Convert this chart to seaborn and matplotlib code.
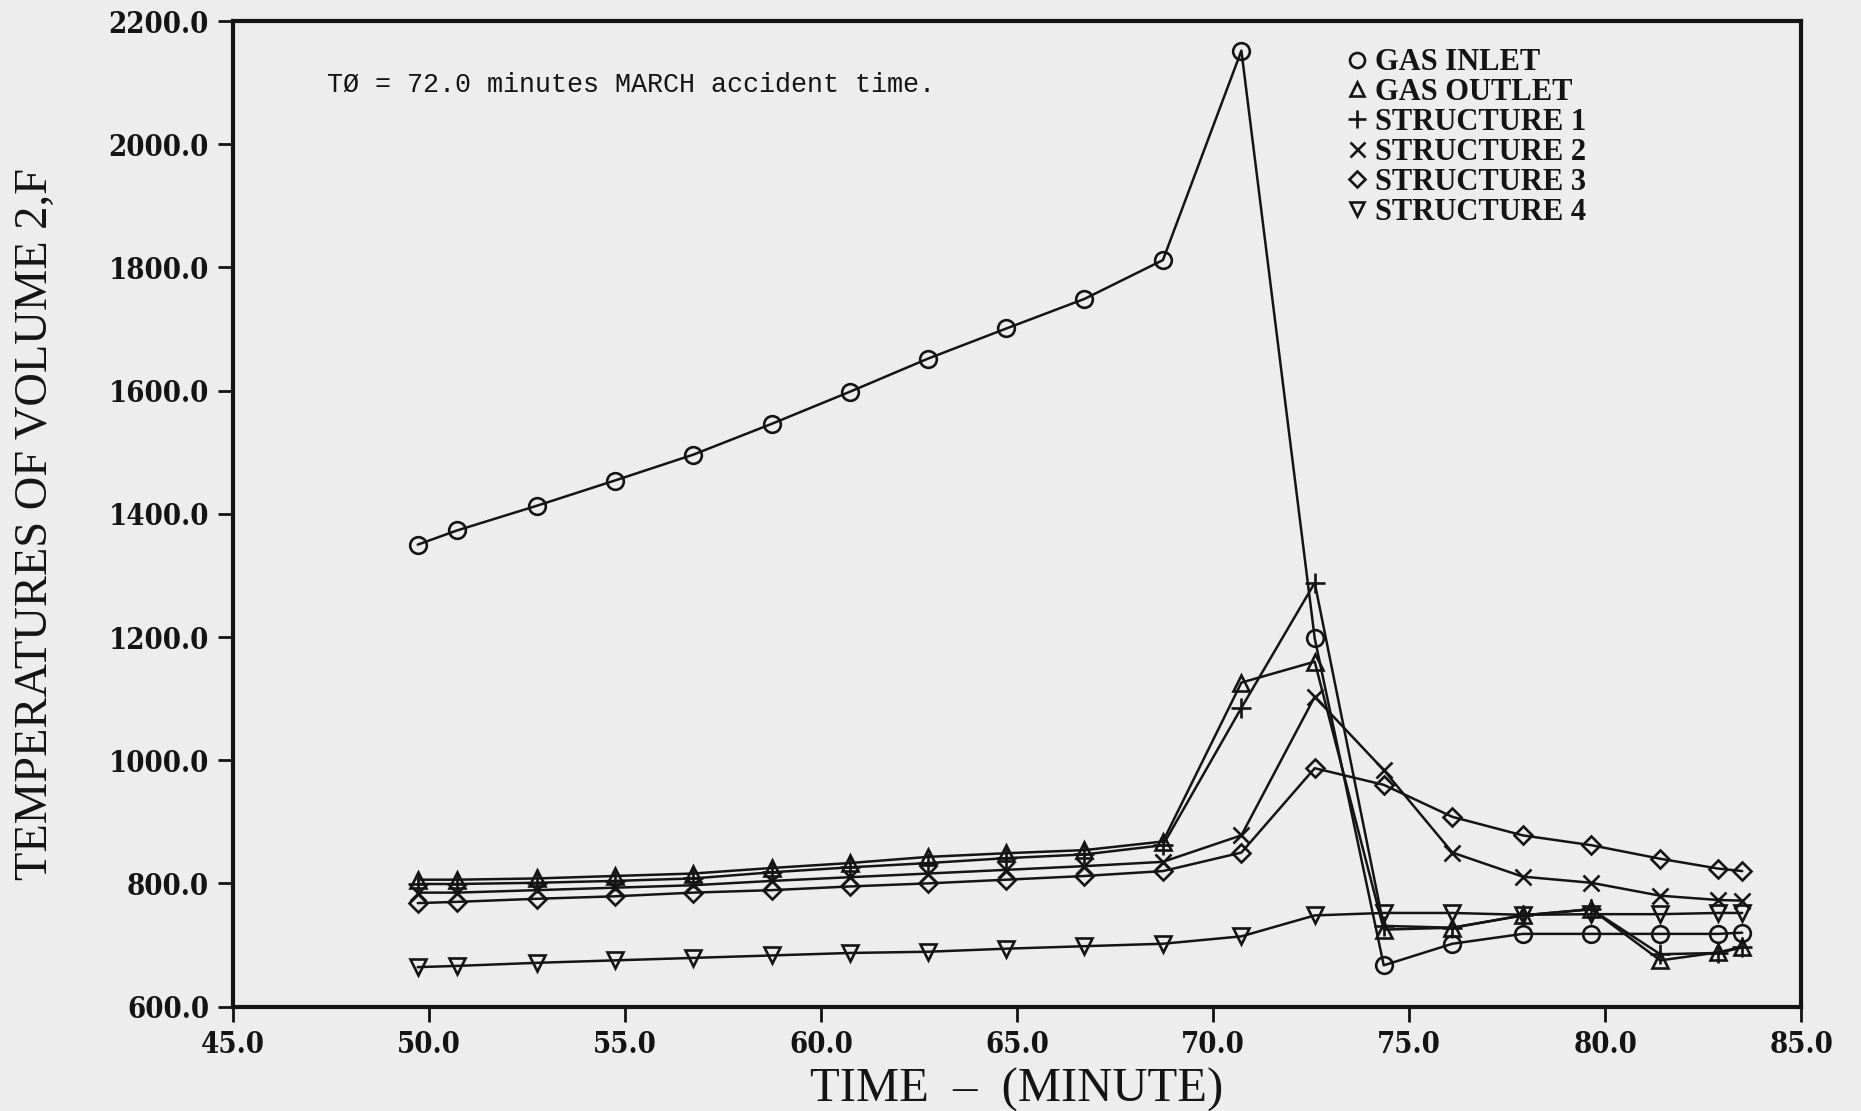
import matplotlib
matplotlib.use("Agg")
import matplotlib.pyplot as plt
from matplotlib.lines import Line2D
import seaborn as sns
import pandas as pd

# ---------------- data ----------------
time_min = [49.72, 50.72, 52.75, 54.74, 56.74, 58.74, 60.73, 62.73, 64.73, 66.72,
            68.72, 70.72, 72.59, 74.35, 76.10, 77.89, 79.64, 81.40, 82.88, 83.49]
gas_inlet = [1350, 1373, 1413, 1454, 1496, 1546, 1598, 1652, 1701, 1749,
             1812, 2152, 1198, 667, 702, 718, 718, 718, 718, 720]
gas_outlet = [806, 806, 808, 812, 816, 825, 833, 843, 849, 854,
              868, 1126, 1160, 725, 728, 748, 758, 675, 688, 697]
structure_1 = [799, 799, 801, 804, 808, 818, 826, 833, 841, 847,
               862, 1085, 1288, 731, 728, 748, 758, 685, 687, 696]
structure_2 = [785, 785, 789, 793, 797, 804, 810, 816, 822, 828,
               835, 878, 1103, 984, 850, 811, 801, 780, 773, 772]
structure_3 = [768, 770, 775, 779, 785, 789, 795, 800, 806, 812,
               820, 850, 987, 960, 908, 878, 862, 840, 824, 820]
structure_4 = [664, 666, 671, 675, 679, 683, 687, 689, 694, 698,
               702, 714, 748, 752, 752, 749, 750, 750, 752, 752]

series_names = ["GAS INLET", "GAS OUTLET", "STRUCTURE 1", "STRUCTURE 2",
                "STRUCTURE 3", "STRUCTURE 4"]
series_values = [gas_inlet, gas_outlet, structure_1, structure_2,
                 structure_3, structure_4]
series_markers = ["o", "^", "+", "x", "D", "v"]

x_ticks = [45.0, 50.0, 55.0, 60.0, 65.0, 70.0, 75.0, 80.0, 85.0]
y_ticks = [600.0, 800.0, 1000.0, 1200.0, 1400.0, 1600.0, 1800.0, 2000.0, 2200.0]

annotation = "TØ = 72.0 minutes MARCH accident time."
x_label = "TIME  –  (MINUTE)"
y_label = "TEMPERATURES OF VOLUME 2,F"

# ---------------- styling ----------------
sns.set_theme(style="ticks")
bg = "#ededed"
ink = "#141414"
plt.rcParams["font.family"] = ["Liberation Serif", "DejaVu Serif"]

fig = plt.figure(figsize=(18.61, 11.11), dpi=100, facecolor=bg)
ax = fig.add_axes([0.125, 0.094, 0.843, 0.887], facecolor=bg)

marker_sizes = {"o": 12, "^": 11, "+": 14, "x": 12, "D": 9, "v": 11}

for name, vals, mk in zip(series_names, series_values, series_markers):
    df = pd.DataFrame({"time": time_min, "temp": vals})
    sns.lineplot(data=df, x="time", y="temp", ax=ax, color=ink, linewidth=1.8,
                 marker=mk, markersize=marker_sizes[mk], markerfacecolor="none",
                 markeredgecolor=ink, markeredgewidth=1.9, sort=False)

ax.set_xlim(45, 85)
ax.set_ylim(600, 2200)
ax.set_xticks(x_ticks)
ax.set_yticks(y_ticks)
ax.set_xticklabels([f"{v:.1f}" for v in x_ticks])
ax.set_yticklabels([f"{v:.1f}" for v in y_ticks])

for sp in ax.spines.values():
    sp.set_visible(True)
    sp.set_linewidth(3.0)
    sp.set_color(ink)

ax.tick_params(axis="both", direction="out", length=11, width=2.0, colors=ink,
               labelsize=21, pad=6)
for lbl in ax.get_xticklabels() + ax.get_yticklabels():
    lbl.set_fontweight("bold")
    lbl.set_family(["DejaVu Serif"])
    lbl.set_fontstretch("condensed")
    lbl.set_color(ink)

ax.set_xlabel(x_label, fontsize=35, color=ink)
ax.xaxis.set_label_coords(0.5, -0.062)
ax.set_ylabel(y_label, fontsize=33.5, color=ink)
ax.yaxis.set_label_coords(-0.112, 0.49)

ax.text(0.06, 0.935, annotation, transform=ax.transAxes,
        fontsize=19.3, family=["Liberation Mono", "DejaVu Sans Mono"],
        color=ink, va="center", ha="left")

handles = [Line2D([], [], linestyle="none", marker=mk, markersize=marker_sizes[mk] * 0.9,
                  markerfacecolor="none", markeredgecolor=ink, markeredgewidth=1.9)
           for mk in series_markers]
leg = ax.legend(handles, series_names, loc="upper left", bbox_to_anchor=(0.699, 0.988),
                frameon=False, handlelength=0.8, handletextpad=0.2, labelspacing=0.03,
                borderpad=0.0, prop={"family": "Liberation Serif", "weight": "bold",
                                     "size": 22})
for t in leg.get_texts():
    t.set_color(ink)

fig.savefig("out.png", dpi=100, facecolor=bg)
